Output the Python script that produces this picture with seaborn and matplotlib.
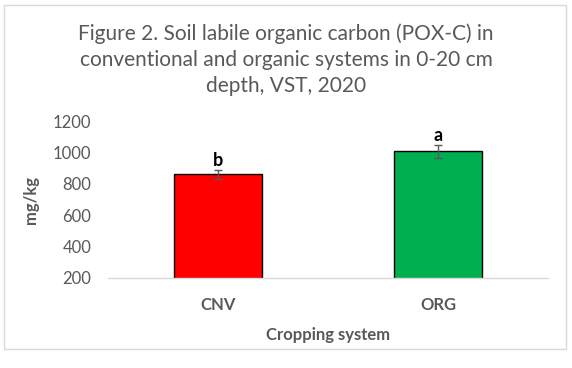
import matplotlib
matplotlib.use("Agg")
import matplotlib.pyplot as plt
import seaborn as sns
import pandas as pd
from matplotlib.patches import Rectangle

systems = ["CNV", "ORG"]
pox_c = [860, 1007]
pox_err = [27, 41]
letters = ["b", "a"]
colors = ["#FF0000", "#00B050"]
y_ticks = [200, 400, 600, 800, 1000, 1200]

sns.set_theme(style="white")
plt.rcParams["font.family"] = ["Lato", "DejaVu Sans"]

df = pd.DataFrame({"system": systems, "value": pox_c})

fig = plt.figure(figsize=(5.72, 3.68), dpi=100)
ax = fig.add_axes([108/572, (368-278)/368, 440/572, 157/368])

sns.barplot(data=df, x="system", y="value", hue="system", palette=colors,
            saturation=1, width=0.4, edgecolor="black", linewidth=1.0,
            errorbar=None, legend=False, ax=ax)
ax.errorbar(x=list(range(len(systems))), y=pox_c, yerr=pox_err, fmt="none",
            ecolor="#595959", elinewidth=1.0, capsize=3, capthick=1.0)
for i, (v, e, t) in enumerate(zip(pox_c, pox_err, letters)):
    ax.text(i, v + e + 6, t, ha="center", va="bottom", fontsize=13,
            fontweight="bold", color="black")

ax.set_ylim(200, 1200)
ax.set_xlim(-0.5, 1.5)
ax.set_yticks(y_ticks)
ax.set_yticklabels([str(t) for t in y_ticks], fontsize=12, color="#595959")
ax.set_xticks(range(len(systems)))
ax.set_xticklabels(systems, fontsize=12, fontweight="bold", color="#595959")
ax.tick_params(axis="both", length=0, pad=14)
ax.tick_params(axis="y", pad=12)
for s in ["top", "right", "left"]:
    ax.spines[s].set_visible(False)
ax.spines["bottom"].set_color("#D9D9D9")
ax.spines["bottom"].set_linewidth(1.0)
ax.set_xlabel("Cropping system", fontsize=12, fontweight="bold",
              color="#595959", labelpad=10)
ax.set_ylabel("mg/kg", fontsize=12, fontweight="bold", color="#595959",
              labelpad=10)

fig.text(0.5, 1 - 60/368,
         "Figure 2. Soil labile organic carbon (POX-C) in\n"
         "conventional and organic systems in 0-20 cm\n"
         "depth, VST, 2020",
         ha="center", va="center", fontsize=15, color="#595959",
         linespacing=1.38)

fig.patches.append(Rectangle((4/572, 1 - 349/368), 562/572, 344/368,
                             transform=fig.transFigure, fill=False,
                             edgecolor="#D9D9D9", linewidth=1.0))

fig.savefig("out.png", dpi=100)
